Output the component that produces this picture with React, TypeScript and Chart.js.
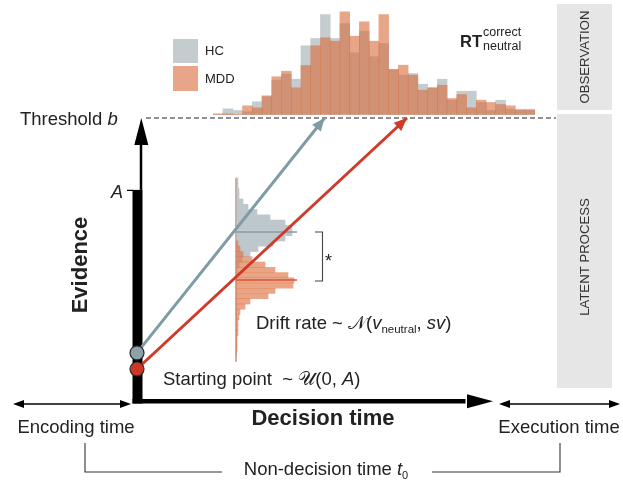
import React, { useEffect, useRef } from 'react';
import { Chart, registerables } from 'chart.js';

Chart.register(...registerables);

// ---------------- data ----------------
// observed RT histogram (decision-time units), bins of equal width
const rtBinStart = 0.1908;
const rtBinWidth = 0.02435;
const rtHC = [0, 5.7, 4, 2.7, 12.7, 17.7, 34.3, 40.3, 35.3, 68.7, 76, 100, 76, 91, 61.7, 83.3, 57.7, 71, 45, 39.3, 41, 30.3, 26.7, 35.3, 14.3, 23.3, 23.3, 12, 4, 14.3, 5.3, 5.3, 5.3];
const rtMDD = [0.7, 0.7, 0, 8.7, 6.7, 18.7, 37.7, 43.3, 26.7, 49, 68.7, 76.7, 73.3, 102.7, 78.3, 92.7, 73.3, 100, 45, 49.3, 39.3, 24.3, 26.7, 29.3, 16, 20, 6.7, 14.3, 12, 10, 8.7, 4.3, 4.3];

// drift-rate distributions (top bin first)
const driftTop = 3.4;
const driftBinWidth = 0.1;
const driftHC = [2, 2, 3, 3, 7, 12, 21, 34, 49, 56, 56, 49, 37, 22, 14, 6, 3, 1, 0, 0, 0, 0, 0, 0, 0, 0, 0, 0, 0, 0, 0, 0, 0, 0, 0];
const driftMDD = [0, 0, 0, 0, 0, 0, 0, 0, 0, 0, 0, 0, 2, 4, 7, 16, 29, 39, 52, 58, 57, 39, 32, 14, 9, 4, 3, 2, 2, 2, 1, 1, 1, 0.5, 0];
const driftMeanHC = 2.371;
const driftMeanMDD = 1.457;
const driftMeanLen = 61;

// accumulation model
const threshold = 1;
const startRange = 0.746; // A
const startHC = 0.17;
const startMDD = 0.113;
const hitTimeHC = 0.469;
const hitTimeMDD = 0.675;

// ---------------- style ----------------
const FONT = '"Liberation Sans", Arial, Helvetica, "DejaVu Sans", sans-serif';
const GREY_LINE = 'rgb(127,156,164)';
const RED_LINE = 'rgb(208,58,40)';
const HC_FILL = 'rgb(196,204,207)';
const MDD_FILL = 'rgba(218,105,57,0.6)';
const TXT = '#222222';

function arrowHead(ctx: CanvasRenderingContext2D, tx: number, ty: number, fx: number, fy: number, len: number, half: number, color: string) {
  const ang = Math.atan2(ty - fy, tx - fx);
  ctx.save();
  ctx.translate(tx, ty);
  ctx.rotate(ang);
  ctx.beginPath();
  ctx.moveTo(0, 0);
  ctx.lineTo(-len, -half);
  ctx.lineTo(-len, half);
  ctx.closePath();
  ctx.fillStyle = color;
  ctx.fill();
  ctx.restore();
}

type Part = { t: string; f: string; dy?: number };
function rich(ctx: CanvasRenderingContext2D, parts: Part[], x: number, y: number, align: 'left' | 'center' = 'left') {
  let w = 0;
  for (const p of parts) { ctx.font = p.f; w += ctx.measureText(p.t).width; }
  let cx = align === 'center' ? x - w / 2 : x;
  ctx.textAlign = 'left';
  ctx.textBaseline = 'middle';
  for (const p of parts) {
    ctx.font = p.f;
    ctx.fillText(p.t, cx, y + (p.dy || 0));
    cx += ctx.measureText(p.t).width;
  }
}

function hline(ctx: CanvasRenderingContext2D, x1: number, y1: number, x2: number, y2: number) {
  ctx.beginPath(); ctx.moveTo(x1, y1); ctx.lineTo(x2, y2); ctx.stroke();
}

const diagram = {
  id: 'diagram',
  beforeDatasetsDraw(chart: any) {
    const { ctx, scales } = chart;
    const sx = scales.x, sy = scales.y, xd = scales.xd, yd = scales.yd;
    ctx.save();
    // side panels
    ctx.fillStyle = '#e6e6e6';
    ctx.fillRect(557, 4, 55, 106);
    ctx.fillRect(557, 114, 55, 274);
    // threshold
    const yb = sy.getPixelForValue(threshold);
    ctx.strokeStyle = '#222';
    ctx.lineWidth = 1.1;
    ctx.setLineDash([5, 3]);
    hline(ctx, 146, yb, 556, yb);
    ctx.setLineDash([]);
    // drift axis
    const dx0 = xd.getPixelForValue(0);
    ctx.strokeStyle = '#ababab';
    ctx.lineWidth = 1.5;
    hline(ctx, dx0, yd.getPixelForValue(driftTop), dx0, yd.getPixelForValue(driftTop - driftHC.length * driftBinWidth));
    // evidence axis
    const x0 = sx.getPixelForValue(0);
    const y0 = sy.getPixelForValue(0);
    const yA = sy.getPixelForValue(startRange);
    ctx.fillStyle = '#000';
    ctx.fillRect(x0 - 4.5, yA, 10, y0 - yA + 2.5);
    ctx.strokeStyle = '#000';
    ctx.lineWidth = 2.5;
    hline(ctx, x0 + 4, yA, x0 + 4, yb + 20);
    arrowHead(ctx, x0 + 4.3, yb, x0 + 4.3, yb + 30, 27, 7, '#000');
    ctx.lineWidth = 1.2;
    hline(ctx, x0 - 10, yA + 0.5, x0 - 4, yA + 0.5);
    // decision time axis
    ctx.fillRect(x0 - 4.5, y0 - 2, 470 - x0, 4.5);
    arrowHead(ctx, 493, y0 + 0.2, 460, y0 + 0.2, 26, 7, '#000');
    // encoding / execution arrows
    ctx.lineWidth = 1.3;
    hline(ctx, 20, y0 + 3, 124, y0 + 3);
    arrowHead(ctx, 13, y0 + 3, 30, y0 + 3, 11, 4, '#000');
    arrowHead(ctx, 131, y0 + 3, 110, y0 + 3, 11, 4, '#000');
    hline(ctx, 506, y0 + 3, 613, y0 + 3);
    arrowHead(ctx, 499, y0 + 3, 520, y0 + 3, 11, 4, '#000');
    arrowHead(ctx, 620, y0 + 3, 600, y0 + 3, 11, 4, '#000');
    ctx.restore();
  },
  afterDatasetDraw(chart: any, args: any) {
    if (args.meta.label !== 'drift MDD') return;
    const { ctx, scales } = chart;
    const xd = scales.xd, yd = scales.yd;
    ctx.save();
    ctx.lineWidth = 1.6;
    ctx.strokeStyle = 'rgb(135,155,162)';
    hline(ctx, xd.getPixelForValue(0), yd.getPixelForValue(driftMeanHC), xd.getPixelForValue(driftMeanLen), yd.getPixelForValue(driftMeanHC));
    ctx.strokeStyle = 'rgb(214,86,56)';
    hline(ctx, xd.getPixelForValue(0), yd.getPixelForValue(driftMeanMDD), xd.getPixelForValue(driftMeanLen), yd.getPixelForValue(driftMeanMDD));
    ctx.restore();
  },
  afterDatasetsDraw(chart: any) {
    const { ctx, scales } = chart;
    const sx = scales.x, sy = scales.y;
    ctx.save();
    // ray arrowheads
    const rays: [number, number, string][] = [[startHC, hitTimeHC, GREY_LINE], [startMDD, hitTimeMDD, RED_LINE]];
    for (const [s, t, c] of rays) {
      arrowHead(ctx, sx.getPixelForValue(t), sy.getPixelForValue(threshold), sx.getPixelForValue(0), sy.getPixelForValue(s), 13, 5.5, c);
    }
    ctx.fillStyle = TXT;
    const R = (n: number) => `${n}px ${FONT}`;
    const I = (n: number) => `italic ${n}px ${FONT}`;
    const B = (n: number) => `bold ${n}px ${FONT}`;
    // labels
    rich(ctx, [{ t: 'Threshold ', f: R(18.5) }, { t: 'b', f: I(18.5) }], 20, 120);
    rich(ctx, [{ t: 'A', f: I(18) }], 111, 193);
    ctx.save();
    ctx.translate(81, 265);
    ctx.rotate(-Math.PI / 2);
    rich(ctx, [{ t: 'Evidence', f: B(22) }], 0, 0, 'center');
    ctx.restore();
    rich(ctx, [{ t: 'Decision time', f: B(22) }], 323, 419, 'center');
    rich(ctx, [{ t: 'Encoding time', f: R(18.5) }], 76, 428, 'center');
    rich(ctx, [{ t: 'Execution time', f: R(18.5) }], 559, 428, 'center');
    rich(ctx, [{ t: 'Non-decision time ', f: R(18.5) }, { t: 't', f: I(18.5) }, { t: '0', f: R(11), dy: 6 }], 326, 470, 'center');
    // bracket
    ctx.strokeStyle = '#333';
    ctx.lineWidth = 1.1;
    ctx.beginPath(); ctx.moveTo(85, 443); ctx.lineTo(85, 472); ctx.lineTo(222, 472); ctx.stroke();
    ctx.beginPath(); ctx.moveTo(432, 472); ctx.lineTo(560, 472); ctx.lineTo(560, 443); ctx.stroke();
    // drift / start labels
    rich(ctx, [
      { t: 'Drift rate ~ ', f: R(18.5) }, { t: '\u{1D4A9}', f: R(18.5) }, { t: '(', f: R(18.5) },
      { t: 'v', f: I(18.5) }, { t: 'neutral', f: R(11.5), dy: 6 }, { t: ', ', f: R(18.5) },
      { t: 'sv', f: I(18.5) }, { t: ')', f: R(18.5) },
    ], 256, 324);
    rich(ctx, [
      { t: 'Starting point  ~ ', f: R(18.5) }, { t: '\u{1D4B0}', f: R(18.5) }, { t: '(0, ', f: R(18.5) },
      { t: 'A', f: I(18.5) }, { t: ')', f: R(18.5) },
    ], 163, 380);
    // significance bracket
    ctx.strokeStyle = '#444';
    ctx.lineWidth = 1.1;
    ctx.beginPath(); ctx.moveTo(315, 232); ctx.lineTo(322.5, 232); ctx.lineTo(322.5, 281); ctx.lineTo(315, 281); ctx.stroke();
    rich(ctx, [{ t: '*', f: R(18) }], 325, 262);
    // legend
    ctx.fillStyle = HC_FILL;
    ctx.fillRect(173, 39, 25, 24);
    ctx.fillStyle = 'rgb(233,165,136)';
    ctx.fillRect(173, 66, 25, 25);
    ctx.fillStyle = TXT;
    rich(ctx, [{ t: 'HC', f: R(13) }], 205, 51);
    rich(ctx, [{ t: 'MDD', f: R(13) }], 205, 79);
    // RT label
    rich(ctx, [{ t: 'RT', f: B(16.5) }], 460, 42);
    rich(ctx, [{ t: 'correct', f: R(12.5) }], 483, 33);
    rich(ctx, [{ t: 'neutral', f: R(12.5) }], 483, 47);
    // panel labels
    ctx.fillStyle = '#333';
    for (const [txt, cy] of [['OBSERVATION', 57], ['LATENT PROCESS', 257]] as [string, number][]) {
      ctx.save();
      ctx.translate(585, cy);
      ctx.rotate(-Math.PI / 2);
      rich(ctx, [{ t: txt, f: R(13.2) }], 0, 0, 'center');
      ctx.restore();
    }
    ctx.restore();
  },
};

export default function App() {
  const ref = useRef<HTMLCanvasElement>(null);
  useEffect(() => {
    const rtCenters = rtHC.map((_, i) => rtBinStart + (i + 0.5) * rtBinWidth);
    const driftCenters = driftHC.map((_, i) => driftTop - (i + 0.5) * driftBinWidth);
    const chart = new Chart(ref.current as HTMLCanvasElement, {
      type: 'bar',
      data: {
        datasets: [
          {
            type: 'line', label: 'HC path', xAxisID: 'x', yAxisID: 'y', order: 2,
            data: [{ x: 0, y: startHC }, { x: hitTimeHC, y: threshold }],
            borderColor: GREY_LINE, borderWidth: 3,
            pointRadius: (c: any) => (c.dataIndex === 0 ? 7 : 0),
            pointBackgroundColor: 'rgb(140,161,168)', pointBorderColor: '#2a2a2a', pointBorderWidth: 1.2,
          } as any,
          {
            type: 'line', label: 'MDD path', xAxisID: 'x', yAxisID: 'y', order: 1,
            data: [{ x: 0, y: startMDD }, { x: hitTimeMDD, y: threshold }],
            borderColor: RED_LINE, borderWidth: 3,
            pointRadius: (c: any) => (c.dataIndex === 0 ? 7 : 0),
            pointBackgroundColor: 'rgb(206,55,38)', pointBorderColor: '#2a2a2a', pointBorderWidth: 1.2,
          } as any,
          {
            type: 'bar', label: 'RT HC', xAxisID: 'x', yAxisID: 'yRT', order: 10,
            data: rtHC.map((v, i) => ({ x: rtCenters[i], y: v })),
            backgroundColor: HC_FILL, grouped: false, barPercentage: 1, categoryPercentage: 1, borderWidth: 0,
          } as any,
          {
            type: 'bar', label: 'RT MDD', xAxisID: 'x', yAxisID: 'yRT', order: 9,
            data: rtMDD.map((v, i) => ({ x: rtCenters[i], y: v })),
            backgroundColor: MDD_FILL, grouped: false, barPercentage: 1, categoryPercentage: 1, borderWidth: 0,
          } as any,
          {
            type: 'bar', label: 'drift HC', indexAxis: 'y', xAxisID: 'xd', yAxisID: 'yd', order: 8,
            data: driftHC.map((v, i) => ({ x: v, y: driftCenters[i] })),
            backgroundColor: 'rgb(190,200,204)', grouped: false, barPercentage: 1, categoryPercentage: 1, borderWidth: 0,
          } as any,
          {
            type: 'bar', label: 'drift MDD', indexAxis: 'y', xAxisID: 'xd', yAxisID: 'yd', order: 7,
            data: driftMDD.map((v, i) => ({ x: v, y: driftCenters[i] })),
            backgroundColor: 'rgba(222,112,66,0.64)', grouped: false, barPercentage: 1, categoryPercentage: 1, borderWidth: 0,
          } as any,
        ],
      },
      options: {
        responsive: false,
        animation: false,
        events: [],
        layout: { padding: 0, autoPadding: false },
        plugins: { legend: { display: false }, tooltip: { enabled: false } },
        scales: {
          x: { type: 'linear', display: false, offset: false, min: -137 / 400, max: (623 - 137) / 400 },
          y: { type: 'linear', display: false, offset: false, min: -83 / 283, max: 401 / 283 },
          yRT: { type: 'linear', axis: 'y', display: false, offset: false, min: 114.5 - 484, max: 114.5 },
          xd: { type: 'linear', axis: 'x', display: false, offset: false, min: -236, max: 623 - 236 },
          yd: { type: 'linear', axis: 'y', display: false, offset: false, min: driftTop - 306 / 52.5, max: driftTop + 178 / 52.5 },
        },
      } as any,
      plugins: [diagram],
    });
    return () => chart.destroy();
  }, []);
  return (
    <div style={{ position: 'absolute', left: 0, top: 0, width: 623, height: 484, background: '#fff' }}>
      <canvas ref={ref} width={623} height={484} style={{ display: 'block', width: 623, height: 484 }} />
    </div>
  );
}
